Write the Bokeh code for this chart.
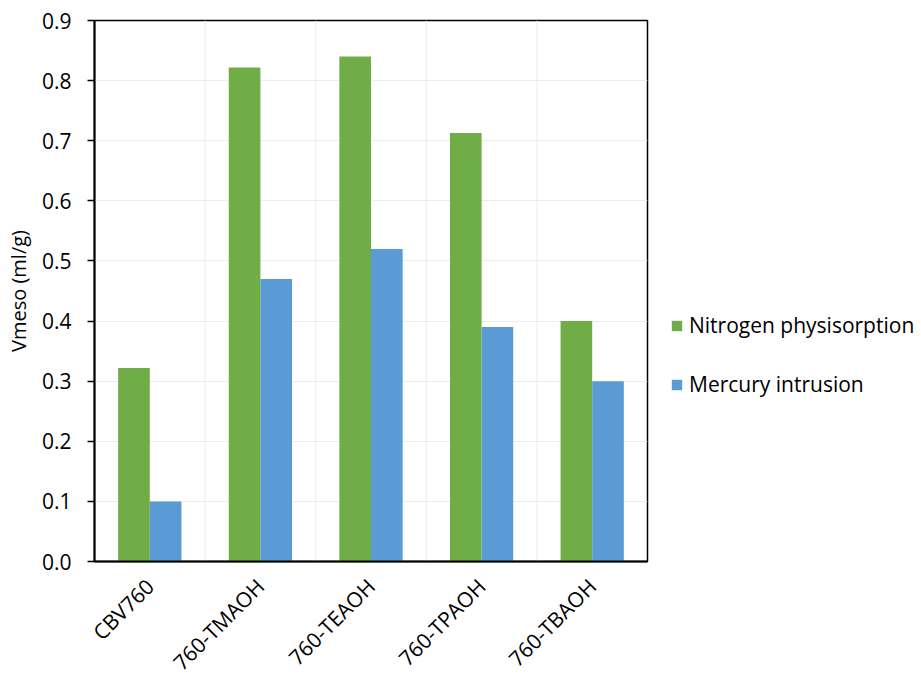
from math import pi
from bokeh.plotting import figure
from bokeh.models import (ColumnDataSource, FactorRange, Range1d, FixedTicker,
                          Legend, LegendItem, Span, NumeralTickFormatter)
from bokeh.transform import dodge
from bokeh.embed import file_html
from bokeh.resources import INLINE

categories = ["CBV760", "760-TMAOH", "760-TEAOH", "760-TPAOH", "760-TBAOH"]
nitrogen = [0.322, 0.822, 0.840, 0.713, 0.400]
mercury = [0.100, 0.470, 0.520, 0.390, 0.300]
y_ticks = [0.0, 0.1, 0.2, 0.3, 0.4, 0.5, 0.6, 0.7, 0.8, 0.9]

FONT = "Open Sans"
GREEN = "#70AD47"
BLUE = "#5B9BD5"

src = ColumnDataSource(dict(cat=categories, n=nitrogen, m=mercury))

p = figure(frame_width=553, frame_height=541, output_backend="svg", toolbar_location=None,
           x_range=FactorRange(*categories, range_padding=0),
           y_range=Range1d(0, 0.9),
           min_border_left=94, min_border_right=6, min_border_top=20,
           min_border_bottom=110)

bw = 0.286
r1 = p.vbar(x=dodge("cat", -bw / 2, range=p.x_range), top="n", width=bw,
            source=src, fill_color=GREEN, line_color=None)
r2 = p.vbar(x=dodge("cat", bw / 2, range=p.x_range), top="m", width=bw,
            source=src, fill_color=BLUE, line_color=None)

# grid
p.xgrid.grid_line_color = None
for loc in range(1, len(categories)):
    p.add_layout(Span(location=loc, dimension="height", line_color="#ececec",
                      line_width=1, level="underlay"))
p.ygrid.grid_line_color = "#ececec"
p.ygrid.grid_line_width = 1
p.ygrid.ticker = FixedTicker(ticks=y_ticks)

p.outline_line_color = "black"
p.outline_line_width = 1.5
p.outline_line_alpha = 1

# axes
p.yaxis.ticker = FixedTicker(ticks=y_ticks)
p.yaxis.formatter = NumeralTickFormatter(format="0.0")
p.yaxis.axis_label = "Vmeso (ml/g)"
p.yaxis.axis_label_text_font_style = "normal"
p.yaxis.axis_label_text_font = FONT
p.yaxis.axis_label_text_font_size = "20px"
p.yaxis.axis_label_text_color = "black"
p.yaxis.axis_label_standoff = 7
p.yaxis.major_tick_out = 7
p.yaxis.major_tick_in = 0
p.yaxis.major_label_standoff = 16
p.yaxis.minor_tick_line_color = None

for ax in (p.xaxis, p.yaxis):
    ax.axis_line_color = "black"
    ax.axis_line_width = 2
    ax.major_label_text_font = FONT
    ax.major_label_text_font_size = "21px"
    ax.major_label_text_color = "black"
    ax.major_tick_line_color = "black"
    ax.major_tick_line_width = 1.5

p.xaxis.major_tick_line_color = None
p.xaxis.major_label_orientation = pi / 4
p.xaxis.major_label_standoff = 15

legend = Legend(items=[LegendItem(label="Nitrogen physisorption", renderers=[r1]),
                       LegendItem(label="Mercury intrusion", renderers=[r2])],
                location=(23, 163), orientation="vertical",
                glyph_width=13, glyph_height=13, label_standoff=6,
                label_text_font=FONT, label_text_font_size="21px",
                label_text_color="black", label_height=24, spacing=31,
                padding=0, margin=0, border_line_color=None,
                background_fill_alpha=0)
p.add_layout(legend, "right")

open("out.html", "w").write(file_html(p, INLINE))
